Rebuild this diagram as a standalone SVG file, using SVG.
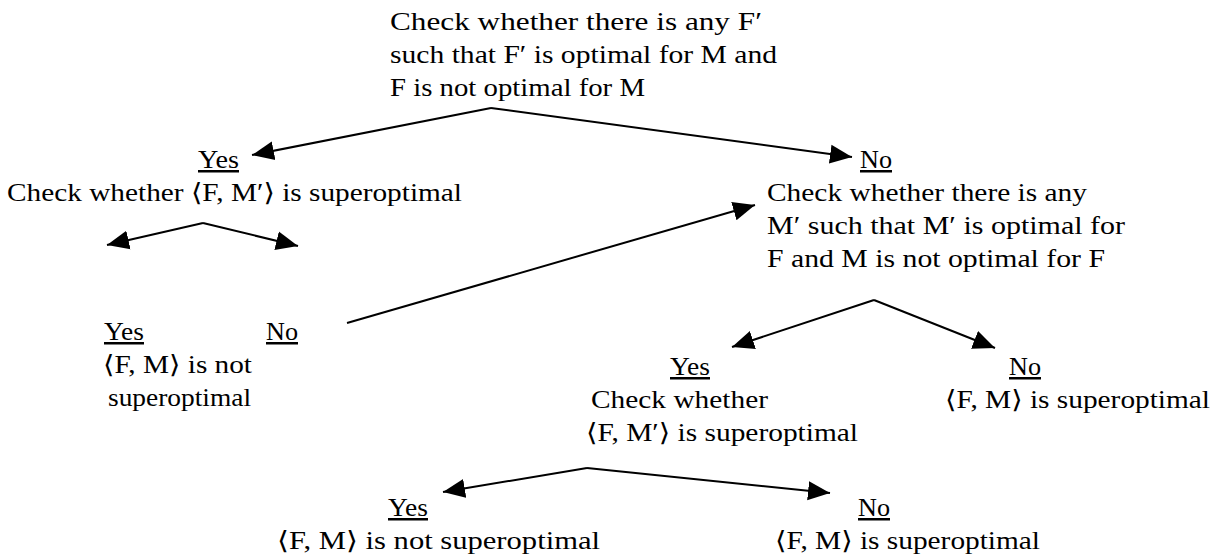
<svg xmlns="http://www.w3.org/2000/svg" width="1226" height="554" viewBox="0 0 1226 554">
<style>
text{font-size:25px;fill:#000}
.u{text-decoration:underline}
.c{stroke:#000;stroke-width:2;fill:none;marker-end:url(#ah)}
</style>
<defs>
<marker id="ah" markerUnits="userSpaceOnUse" markerWidth="23" markerHeight="20" refX="22" refY="9.5" orient="auto" viewBox="0 0 23 19">
<path d="M0,0 L22,9.5 L0,19 z" fill="#000"/>
</marker>
</defs>
<rect width="1226" height="554" fill="#fff"/>
<g id="connectors">
<line class="c" x1="491" y1="108" x2="252" y2="155"/>
<line class="c" x1="491" y1="108" x2="852" y2="157"/>
<line class="c" x1="203" y1="223" x2="107" y2="245"/>
<line class="c" x1="203" y1="223" x2="298" y2="246"/>
<line class="c" x1="347" y1="323" x2="755" y2="205"/>
<line class="c" x1="874" y1="300" x2="732" y2="347"/>
<line class="c" x1="874" y1="300" x2="995" y2="348"/>
<line class="c" x1="587" y1="468" x2="443" y2="492"/>
<line class="c" x1="587" y1="468" x2="830" y2="493"/>
</g>
<g font-family="Liberation Serif, DejaVu Serif, serif" font-size="25">
<g id="root">
<text x="390" y="30" textLength="372" lengthAdjust="spacingAndGlyphs">Check whether there is any F′</text>
<text x="390" y="63" textLength="387" lengthAdjust="spacingAndGlyphs">such that F′ is optimal for M and</text>
<text x="390" y="96" textLength="255" lengthAdjust="spacingAndGlyphs">F is not optimal for M</text>
</g>
<g id="yes1">
<text class="u" x="198" y="168" textLength="41" lengthAdjust="spacingAndGlyphs">Yes</text>
<text x="7" y="201" textLength="455" lengthAdjust="spacingAndGlyphs">Check whether ⟨F, M′⟩ is superoptimal</text>
</g>
<g id="no1">
<text class="u" x="860" y="168" textLength="32" lengthAdjust="spacingAndGlyphs">No</text>
<text x="767" y="201" textLength="320" lengthAdjust="spacingAndGlyphs">Check whether there is any</text>
<text x="767" y="234" textLength="358" lengthAdjust="spacingAndGlyphs">M′ such that M′ is optimal for</text>
<text x="767" y="267" textLength="338" lengthAdjust="spacingAndGlyphs">F and M is not optimal for F</text>
</g>
<g id="yes2">
<text class="u" x="104" y="340" textLength="40" lengthAdjust="spacingAndGlyphs">Yes</text>
<text x="103" y="373" textLength="149" lengthAdjust="spacingAndGlyphs">⟨F, M⟩ is not</text>
<text x="108" y="406" textLength="143" lengthAdjust="spacingAndGlyphs">superoptimal</text>
</g>
<g id="no2">
<text class="u" x="266" y="340" textLength="32" lengthAdjust="spacingAndGlyphs">No</text>
</g>
<g id="yes3">
<text class="u" x="670" y="375" textLength="40" lengthAdjust="spacingAndGlyphs">Yes</text>
<text x="591" y="408" textLength="177" lengthAdjust="spacingAndGlyphs">Check whether</text>
<text x="586" y="441" textLength="272" lengthAdjust="spacingAndGlyphs">⟨F, M′⟩ is superoptimal</text>
</g>
<g id="no3">
<text class="u" x="1009" y="375" textLength="32" lengthAdjust="spacingAndGlyphs">No</text>
<text x="945" y="408" textLength="265" lengthAdjust="spacingAndGlyphs">⟨F, M⟩ is superoptimal</text>
</g>
<g id="yes4">
<text class="u" x="388" y="516" textLength="40" lengthAdjust="spacingAndGlyphs">Yes</text>
<text x="277" y="549" textLength="323" lengthAdjust="spacingAndGlyphs">⟨F, M⟩ is not superoptimal</text>
</g>
<g id="no4">
<text class="u" x="858" y="516" textLength="32" lengthAdjust="spacingAndGlyphs">No</text>
<text x="775" y="549" textLength="265" lengthAdjust="spacingAndGlyphs">⟨F, M⟩ is superoptimal</text>
</g>
</g>
</svg>
